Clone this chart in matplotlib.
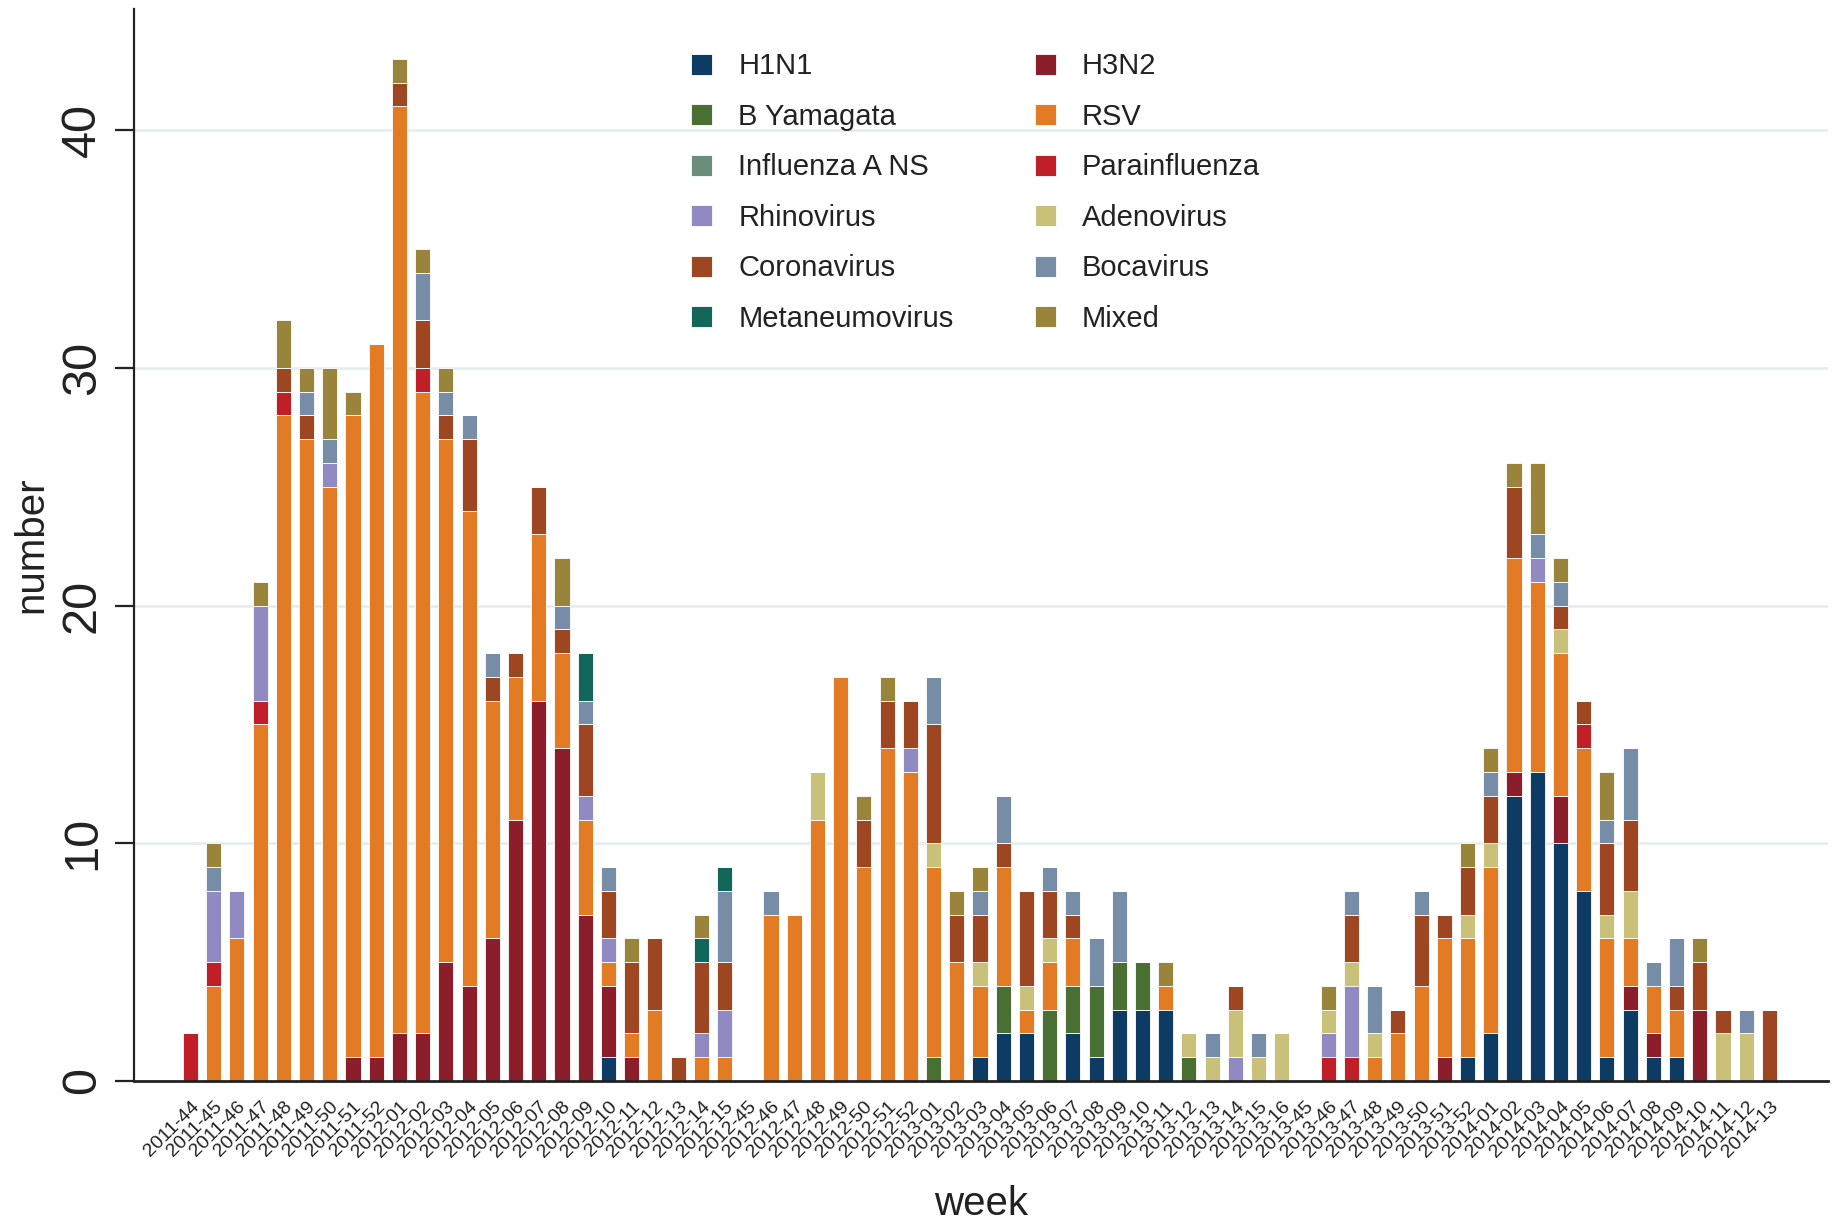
import matplotlib.pyplot as plt
import numpy as np

plt.rcParams['font.family'] = ['Liberation Sans', 'DejaVu Sans']

""" data read off the figure: cases per week, stacked """
weeks = ['2011-44', '2011-45', '2011-46', '2011-47', '2011-48', '2011-49', '2011-50', '2011-51', '2011-52',
         '2012-01', '2012-02', '2012-03', '2012-04', '2012-05', '2012-06', '2012-07', '2012-08', '2012-09',
         '2012-10', '2012-11', '2012-12', '2012-13', '2012-14', '2012-15',
         '2012-45', '2012-46', '2012-47', '2012-48', '2012-49', '2012-50', '2012-51', '2012-52',
         '2013-01', '2013-02', '2013-03', '2013-04', '2013-05', '2013-06', '2013-07', '2013-08', '2013-09',
         '2013-10', '2013-11', '2013-12', '2013-13', '2013-14', '2013-15', '2013-16',
         '2013-45', '2013-46', '2013-47', '2013-48', '2013-49', '2013-50', '2013-51', '2013-52',
         '2014-01', '2014-02', '2014-03', '2014-04', '2014-05', '2014-06', '2014-07', '2014-08', '2014-09',
         '2014-10', '2014-11', '2014-12', '2014-13']

h1n1 = [0, 0, 0, 0, 0, 0, 0, 0, 0, 0,
        0, 0, 0, 0, 0, 0, 0, 0, 1, 0,
        0, 0, 0, 0, 0, 0, 0, 0, 0, 0,
        0, 0, 0, 0, 1, 2, 2, 0, 2, 1,
        3, 3, 3, 0, 0, 0, 0, 0, 0, 0,
        0, 0, 0, 0, 0, 1, 2, 12, 13, 10,
        8, 1, 3, 1, 1, 0, 0, 0, 0]
h3n2 = [0, 0, 0, 0, 0, 0, 0, 1, 1, 2,
        2, 5, 4, 6, 11, 16, 14, 7, 3, 1,
        0, 0, 0, 0, 0, 0, 0, 0, 0, 0,
        0, 0, 0, 0, 0, 0, 0, 0, 0, 0,
        0, 0, 0, 0, 0, 0, 0, 0, 0, 0,
        0, 0, 0, 0, 1, 0, 0, 1, 0, 2,
        0, 0, 1, 1, 0, 3, 0, 0, 0]
b_yamagata = [0, 0, 0, 0, 0, 0, 0, 0, 0, 0,
              0, 0, 0, 0, 0, 0, 0, 0, 0, 0,
              0, 0, 0, 0, 0, 0, 0, 0, 0, 0,
              0, 0, 1, 0, 0, 2, 0, 3, 2, 3,
              2, 2, 0, 1, 0, 0, 0, 0, 0, 0,
              0, 0, 0, 0, 0, 0, 0, 0, 0, 0,
              0, 0, 0, 0, 0, 0, 0, 0, 0]
rsv = [0, 4, 6, 15, 28, 27, 25, 27, 30, 39,
       27, 22, 20, 10, 6, 7, 4, 4, 1, 1,
       3, 0, 1, 1, 0, 7, 7, 11, 17, 9,
       14, 13, 8, 5, 3, 5, 1, 2, 2, 0,
       0, 0, 1, 0, 0, 0, 0, 0, 0, 0,
       0, 1, 2, 4, 5, 5, 7, 9, 8, 6,
       6, 5, 2, 2, 2, 0, 0, 0, 0]
influenza_a_ns = [0] * 69
parainfluenza = [2, 1, 0, 1, 1, 0, 0, 0, 0, 0,
                 1, 0, 0, 0, 0, 0, 0, 0, 0, 0,
                 0, 0, 0, 0, 0, 0, 0, 0, 0, 0,
                 0, 0, 0, 0, 0, 0, 0, 0, 0, 0,
                 0, 0, 0, 0, 0, 0, 0, 0, 0, 1,
                 1, 0, 0, 0, 0, 0, 0, 0, 0, 0,
                 1, 0, 0, 0, 0, 0, 0, 0, 0]
rhinovirus = [0, 3, 2, 4, 0, 0, 1, 0, 0, 0,
              0, 0, 0, 0, 0, 0, 0, 1, 1, 0,
              0, 0, 1, 2, 0, 0, 0, 0, 0, 0,
              0, 1, 0, 0, 0, 0, 0, 0, 0, 0,
              0, 0, 0, 0, 0, 1, 0, 0, 0, 1,
              3, 0, 0, 0, 0, 0, 0, 0, 1, 0,
              0, 0, 0, 0, 0, 0, 0, 0, 0]
adenovirus = [0, 0, 0, 0, 0, 0, 0, 0, 0, 0,
              0, 0, 0, 0, 0, 0, 0, 0, 0, 0,
              0, 0, 0, 0, 0, 0, 0, 2, 0, 0,
              0, 0, 1, 0, 1, 0, 1, 1, 0, 0,
              0, 0, 0, 1, 1, 2, 1, 2, 0, 1,
              1, 1, 0, 0, 0, 1, 1, 0, 0, 1,
              0, 1, 2, 0, 0, 0, 2, 2, 0]
coronavirus = [0, 0, 0, 0, 1, 1, 0, 0, 0, 1,
               2, 1, 3, 1, 1, 2, 1, 3, 2, 3,
               3, 1, 3, 2, 0, 0, 0, 0, 0, 2,
               2, 2, 5, 2, 2, 1, 4, 2, 1, 0,
               0, 0, 0, 0, 0, 1, 0, 0, 0, 0,
               2, 0, 1, 3, 1, 2, 2, 3, 0, 1,
               1, 3, 3, 0, 1, 2, 1, 0, 3]
bocavirus = [0, 1, 0, 0, 0, 1, 1, 0, 0, 0,
             2, 1, 1, 1, 0, 0, 1, 1, 1, 0,
             0, 0, 0, 3, 0, 1, 0, 0, 0, 0,
             0, 0, 2, 0, 1, 2, 0, 1, 1, 2,
             3, 0, 0, 0, 1, 0, 1, 0, 0, 0,
             1, 2, 0, 1, 0, 0, 1, 0, 1, 1,
             0, 1, 3, 1, 2, 0, 0, 1, 0]
metaneumovirus = [0, 0, 0, 0, 0, 0, 0, 0, 0, 0,
                  0, 0, 0, 0, 0, 0, 0, 2, 0, 0,
                  0, 0, 1, 1, 0, 0, 0, 0, 0, 0,
                  0, 0, 0, 0, 0, 0, 0, 0, 0, 0,
                  0, 0, 0, 0, 0, 0, 0, 0, 0, 0,
                  0, 0, 0, 0, 0, 0, 0, 0, 0, 0,
                  0, 0, 0, 0, 0, 0, 0, 0, 0]
mixed = [0, 1, 0, 1, 2, 1, 3, 1, 0, 1,
         1, 1, 0, 0, 0, 0, 2, 0, 0, 1,
         0, 0, 1, 0, 0, 0, 0, 0, 0, 1,
         1, 0, 0, 1, 1, 0, 0, 0, 0, 0,
         0, 0, 1, 0, 0, 0, 0, 0, 0, 1,
         0, 0, 0, 0, 0, 1, 1, 1, 3, 1,
         0, 2, 0, 0, 0, 1, 0, 0, 0]

# stacking order (bottom -> top), same as the legend read row by row
series = [("H1N1", h1n1, '#0d3b63'),
          ("H3N2", h3n2, '#8c1d2b'),
          ("B Yamagata", b_yamagata, '#4a6f32'),
          ("RSV", rsv, '#e27b24'),
          ("Influenza A NS", influenza_a_ns, '#6a8d7c'),
          ("Parainfluenza", parainfluenza, '#c01f28'),
          ("Rhinovirus", rhinovirus, '#9189c2'),
          ("Adenovirus", adenovirus, '#c9c17a'),
          ("Coronavirus", coronavirus, '#9e4621'),
          ("Bocavirus", bocavirus, '#778da7'),
          ("Metaneumovirus", metaneumovirus, '#12665a'),
          ("Mixed", mixed, '#9a843b')]

W, H = 1832, 1221
fig = plt.figure(figsize=(W / 100, H / 100), dpi=100)
ax = fig.add_axes([134 / W, 1 - 1081 / H, (1828 - 134) / W, (1081 - 9) / H])

x = np.arange(len(weeks))
bottom = np.zeros(len(weeks))
handles = []
for name, vals, col in series:
    vals = np.array(vals, dtype=float)
    bars = ax.bar(x, vals, 0.65, bottom=bottom, color=col, edgecolor='white',
                  linewidth=0.6, label=name, zorder=2)
    handles.append(bars)
    bottom += vals

ax.set_xlim(-2.43, 70.52)
ax.set_ylim(0, 45.1)

# light horizontal grid
ax.set_yticks([0, 10, 20, 30, 40])
for yv in [10, 20, 30, 40]:
    ax.axhline(yv, color='#e3ecef', linewidth=1.8, zorder=1)

ax.spines['top'].set_visible(False)
ax.spines['right'].set_visible(False)
ax.spines['left'].set_linewidth(1.6)
ax.spines['bottom'].set_linewidth(2.0)
ax.spines['left'].set_color('#222222')
ax.spines['bottom'].set_color('#222222')

ax.tick_params(axis='y', length=14, width=1.6, pad=7, labelsize=35, colors='#222222')
plt.setp(ax.get_yticklabels(), rotation=90, va='center')

ax.set_xticks(x)
ax.set_xticklabels(weeks, rotation=45, ha='right', rotation_mode='anchor', fontsize=14, color='#222222')
ax.tick_params(axis='x', length=0, pad=12)

ax.set_ylabel("number", fontsize=29, color='#222222', va='center')
ax.yaxis.set_label_coords(-0.0608, 0.5)
ax.set_xlabel("week", fontsize=29, color='#222222')
ax.xaxis.label.set_va('baseline')
ax.xaxis.set_label_coords(0.5, -0.125)

# legend: two columns, filled row by row like the original
order = [0, 2, 4, 6, 8, 10, 1, 3, 5, 7, 9, 11]
leg = fig.legend([handles[i] for i in order], [series[i][0] for i in order],
                 loc='upper left', bbox_to_anchor=(691 / W, 1 - 52.5 / H), ncol=2,
                 frameon=False, fontsize=21, borderpad=0, borderaxespad=0,
                 handlelength=0.72, handleheight=0.72, handletextpad=0.9,
                 columnspacing=2.78, labelspacing=0.77)
for t in leg.get_texts():
    t.set_color('#222222')

fig.savefig('out.png', dpi=100)
